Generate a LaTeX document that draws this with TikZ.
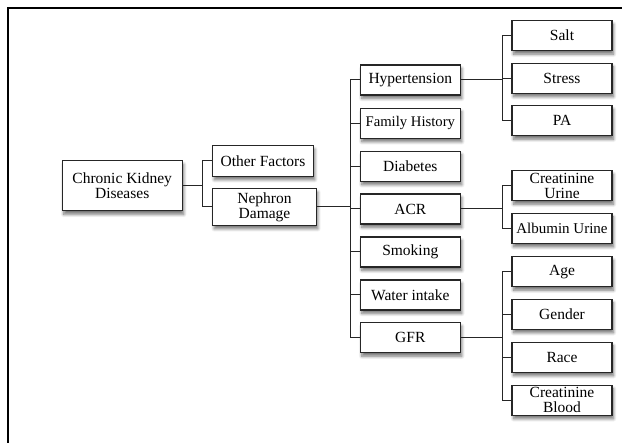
\documentclass[tikz,border=0pt]{standalone}
\usepackage{fontspec}
\setmainfont{Liberation Serif}
\usetikzlibrary{shadows.blur}
\begin{document}
\begin{tikzpicture}[x=1pt,y=-1pt,
  box/.style={draw=black!85, line width=1.1pt, fill=white, inner sep=0pt,
    minimum width=100pt, minimum height=30pt, align=center,
    font=\fontsize{15.5}{15}\selectfont,
    blur shadow={shadow xshift=1.5pt, shadow yshift=-3.5pt, shadow blur radius=3pt, shadow blur steps=8, shadow opacity=55}},
  link/.style={draw=black!85, line width=1pt}]
\useasboundingbox (0,0) rectangle (622,443);
\draw[line width=1.3pt] (8,443) -- (8,8) -- (622,8);

\coordinate (b1) at (202.4,0);
\coordinate (b2) at (350,0);
\coordinate (b3) at (502,0);

\node[box, minimum width=120pt, minimum height=50pt] (ckd) at (122.2,185.9) {Chronic Kidney\\Diseases};
\node[box, minimum width=100.5pt, minimum height=30.6pt] (other) at (263,161) {Other Factors};
\node[box, minimum width=103.6pt, minimum height=36.6pt] (neph) at (264.5,207) {Nephron\\Damage};

\node[box] (hyp) at (410.3,80) {Hypertension};
\node[box, font=\fontsize{14.7}{15}\selectfont] (fam) at (410.3,123.3) {Family History};
\node[box] (dia) at (410.3,166.3) {Diabetes};
\node[box] (acr) at (410.3,209) {ACR};
\node[box] (smk) at (410.3,252) {Smoking};
\node[box] (wat) at (410.3,295) {Water intake};
\node[box] (gfr) at (410.3,337.7) {GFR};

\node[box] (salt) at (562,35.7) {Salt};
\node[box] (stress) at (562,78.3) {Stress};
\node[box] (pa) at (562,120.8) {PA};
\node[box] (cu) at (562,185.8) {Creatinine\\Urine};
\node[box, font=\fontsize{15}{15}\selectfont] (au) at (562,228.5) {Albumin Urine};
\node[box] (age) at (562,271.7) {Age};
\node[box] (gen) at (562,314.3) {Gender};
\node[box] (race) at (562,357.3) {Race};
\node[box] (cb) at (562,400.3) {Creatinine\\Blood};

% level 1
\draw[link] (ckd.east) -- (ckd.east -| b1);
\draw[link] (other.west) -- (other.west -| b1) -- (neph.west -| b1) -- (neph.west);
% level 2
\draw[link] (neph.east) -- (neph.east -| b2);
\draw[link] (hyp.west) -- (hyp.west -| b2) -- (gfr.west -| b2) -- (gfr.west);
\foreach \n in {fam,dia,acr,smk,wat}
  \draw[link] (\n.west) -- (\n.west -| b2);
% level 3
\draw[link] (hyp.east) -- (hyp.east -| b3);
\draw[link] (salt.west) -- (salt.west -| b3) -- (pa.west -| b3) -- (pa.west);
\draw[link] (stress.west) -- (stress.west -| b3);
\draw[link] (acr.east) -- (acr.east -| b3);
\draw[link] (cu.west) -- (cu.west -| b3) -- (au.west -| b3) -- (au.west);
\draw[link] (gfr.east) -- (gfr.east -| b3);
\draw[link] (age.west) -- (age.west -| b3) -- (cb.west -| b3) -- (cb.west);
\foreach \n in {gen,race}
  \draw[link] (\n.west) -- (\n.west -| b3);
\end{tikzpicture}
\end{document}
